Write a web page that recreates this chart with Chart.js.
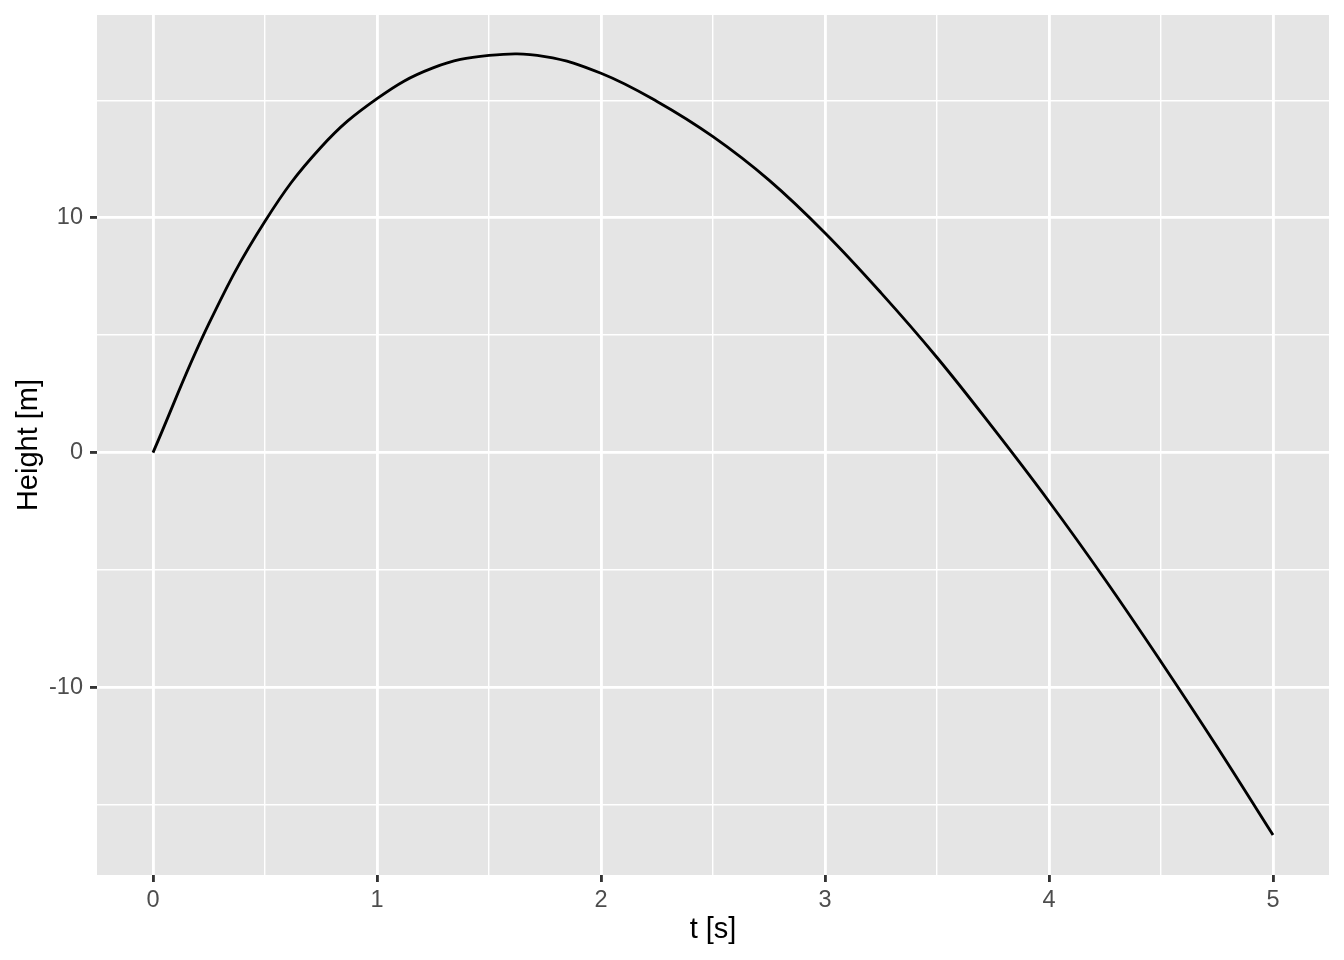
<!DOCTYPE html>
<html>
<head>
<meta charset="utf-8">
<script src="https://cdn.jsdelivr.net/npm/chart.js@4.4.1/dist/chart.umd.min.js"></script>
<style>
  body { margin: 0; background: #ffffff; }
  #wrap { width: 1344px; height: 960px; }
</style>
</head>
<body>
<div id="wrap"><canvas id="heightChart" width="1344" height="960"></canvas></div>
<script>
// data
const tValues = [0, 0.25, 0.5, 0.75, 1, 1.25, 1.5, 1.75, 2, 2.25, 2.5, 2.75, 3, 3.25, 3.5, 3.75, 4, 4.25, 4.5, 4.75, 5];
const heights = [0, 5.5, 9.85, 13.0, 15.07, 16.38, 16.91, 16.86, 16.15, 14.95, 13.45, 11.6, 9.35, 6.8, 4.05, 1.05, -2.08, -5.4, -8.9, -12.52, -16.28];

// axis ticks (major + minor grid)
const xGridValues = [0, 0.5, 1, 1.5, 2, 2.5, 3, 3.5, 4, 4.5, 5];
const xTickLabels = [0, 1, 2, 3, 4, 5];
const yGridValues = [-15, -10, -5, 0, 5, 10, 15];
const yTickLabels = [-10, 0, 10];

const points = tValues.map((t, i) => ({ x: t, y: heights[i] }));

const panelBg = {
  id: 'panelBg',
  beforeDraw(chart) {
    const a = chart.chartArea;
    const c = chart.ctx;
    c.save();
    c.fillStyle = '#E5E5E5';
    c.fillRect(a.left, a.top, a.right - a.left, a.bottom - a.top);
    c.restore();
  }
};

function isMajor(list, v) {
  return list.indexOf(v) !== -1;
}

const ctx = document.getElementById('heightChart').getContext('2d');
const heightChart = new Chart(ctx, {
  type: 'line',
  data: {
    datasets: [{
      data: points,
      borderColor: '#000000',
      borderWidth: 2.85,
      pointRadius: 0,
      fill: false,
      tension: 0.4
    }]
  },
  options: {
    responsive: false,
    animation: false,
    layout: { padding: { top: 15, right: 15, left: 0, bottom: 0 } },
    plugins: { legend: { display: false }, tooltip: { enabled: false } },
    scales: {
      x: {
        type: 'linear',
        min: -0.25,
        max: 5.25,
        afterBuildTicks: s => { s.ticks = xGridValues.map(v => ({ value: v })); },
        afterFit: s => { s.height = 85; s.paddingLeft = 0; s.paddingRight = 0; },
        border: { display: false },
        grid: {
          color: '#ffffff',
          lineWidth: c => isMajor(xTickLabels, c.tick.value) ? 2.85 : 1.42,
          tickColor: c => isMajor(xTickLabels, c.tick.value) ? '#333333' : 'rgba(0,0,0,0)',
          tickWidth: 2.85,
          tickLength: 7
        },
        ticks: {
          autoSkip: false,
          maxRotation: 0,
          padding: 4,
          color: '#4D4D4D',
          font: { family: 'Liberation Sans', size: 23.5 },
          callback: v => isMajor(xTickLabels, v) ? String(v) : ''
        },
        title: {
          display: true,
          text: 't [s]',
          color: '#000000',
          font: { family: 'Liberation Sans', size: 29 },
          padding: { top: 0, bottom: 13 }
        }
      },
      y: {
        type: 'linear',
        min: -17.98,
        max: 18.63,
        afterBuildTicks: s => { s.ticks = yGridValues.map(v => ({ value: v })); },
        afterFit: s => { s.width = 97; s.paddingTop = 0; s.paddingBottom = 0; },
        border: { display: false },
        grid: {
          color: '#ffffff',
          lineWidth: c => isMajor(yTickLabels, c.tick.value) ? 2.85 : 1.42,
          tickColor: c => isMajor(yTickLabels, c.tick.value) ? '#333333' : 'rgba(0,0,0,0)',
          tickWidth: 2.85,
          tickLength: 7
        },
        ticks: {
          autoSkip: false,
          padding: 7,
          color: '#4D4D4D',
          font: { family: 'Liberation Sans', size: 23.5 },
          callback: v => isMajor(yTickLabels, v) ? String(v) : ''
        },
        title: {
          display: true,
          text: 'Height [m]',
          color: '#000000',
          font: { family: 'Liberation Sans', size: 29 },
          padding: { top: 12, bottom: 0 }
        }
      }
    }
  },
  plugins: [panelBg]
});
</script>
</body>
</html>
